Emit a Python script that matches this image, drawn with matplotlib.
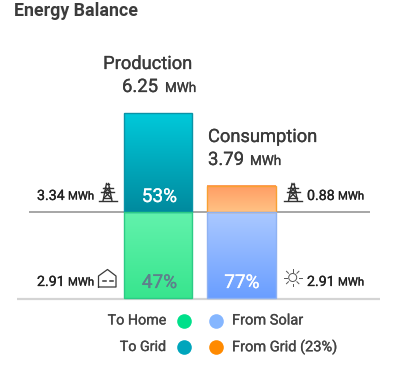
import numpy as np
import matplotlib
matplotlib.use("Agg")
import matplotlib.pyplot as plt
import matplotlib.patheffects as pe
from matplotlib.colors import LinearSegmentedColormap
from matplotlib.patches import Circle

plt.rcParams['font.family'] = ['Roboto', 'DejaVu Sans']

W, H = 404, 371
PX = 0.72  # px to pt at dpi 100

# data
categories = ["Production", "Consumption"]
totals = ["6.25", "3.79"]
above = [3.34, 0.88]
below = [2.91, 2.91]
above_pct = ["53%", ""]
below_pct = ["47%", "77%"]
legend_left = ["To Home", "To Grid"]
legend_right = ["From Solar", "From Grid (23%)"]
legend_left_colors = ["#00E08A", "#00A5BC"]
legend_right_colors = ["#85B6FF", "#FF8A00"]

fig = plt.figure(figsize=(W / 100, H / 100), dpi=100, facecolor="white")

# data axes: y in MWh, zero at the shared line
scale = 29.55
zero_px = 212.0
cx0, step = 158.5, 83.0
ax = fig.add_axes([0, 0, 1, 1], facecolor="none")
ax.set_xlim(-cx0 / step, (W - cx0) / step)
ax.set_ylim(-(H - zero_px) / scale, zero_px / scale)
ax.axis("off")

# overlay in pixels for labels and icons
ov = fig.add_axes([0, 0, 1, 1], facecolor="none")
ov.set_xlim(0, W)
ov.set_ylim(H, 0)
ov.axis("off")


def txt(x, y, s, size, color, weight_px=0.2, **kw):
    t = ov.text(x, y, s, fontsize=size * PX, color=color, va="center", zorder=6, **kw)
    if weight_px:
        t.set_path_effects([pe.withStroke(linewidth=weight_px, foreground=color)])
    return t


def grad_bar(x, bottom, height, top_col, bot_col, edge):
    w = 68.0 / step
    ax.bar(x, height, bottom=bottom, width=w, facecolor="none",
           edgecolor=edge, linewidth=1.0, zorder=3)
    cmap = LinearSegmentedColormap.from_list("g", [top_col, bot_col])
    y0, y1 = sorted([bottom, bottom + height])
    ax.imshow(np.linspace(0, 1, 128)[:, None], cmap=cmap, aspect="auto",
              origin="upper", extent=[x - w / 2, x + w / 2, y0, y1], zorder=2)


xlim, ylim = ax.get_xlim(), ax.get_ylim()
grad_bar(0, 0, above[0], "#00C9DA", "#008A9E", "#0A93A6")
grad_bar(0, -below[0], below[0], "#62F2AC", "#38E58E", "#2CCB85")
grad_bar(1, 0, above[1], "#FF9C63", "#FFC284", "#F9A032")
grad_bar(1, -below[1], below[1], "#ABC9FF", "#6A9EFF", "#8FB2F2")
ax.set_xlim(xlim)
ax.set_ylim(ylim)

# rules sit behind the bars
ax.hlines(0, xlim[0] + 29 / step, xlim[0] + 370 / step, color="#8E8E8E", lw=1.1, zorder=1)
ax.hlines(-(298.5 - zero_px) / scale, xlim[0] + 17 / step, xlim[0] + 380 / step,
          color="#D4D4D4", lw=1.6, zorder=1)

dark = "#3A3A3A"
txt(14, 11, "Energy Balance", 17.8, "#3C3C3C", 0, fontweight="bold", ha="left")

# headers
txt(192.5, 64, categories[0], 18.3, dark, ha="right")
txt(122, 87, totals[0], 18.5, dark, ha="left")
txt(165, 88, "MWh", 13.5, dark, ha="left")
txt(208, 137, categories[1], 18.3, dark, ha="left")
txt(208, 160, totals[1], 18.5, dark, ha="left")
txt(250, 161, "MWh", 13.5, dark, ha="left")

# percents
txt(159.5, 197, above_pct[0], 19, "white", ha="center")
txt(159.5, 283, below_pct[0], 19, "#5F7F8C", ha="center")
txt(242, 283, below_pct[1], 19, "white", ha="center")


def value_label(x, y, val):
    txt(x, y, val, 14.2, "#222222", ha="left")
    txt(x + 31, y + 0.5, "MWh", 11.3, "#222222", ha="left")


value_label(37, 196, f"{above[0]:.2f}")
value_label(37, 282, f"{below[0]:.2f}")
value_label(307, 196, f"{above[1]:.2f}")
value_label(307, 282, f"{below[1]:.2f}")


def pylon(cx, base):
    c = "#333333"
    lw = 1.0
    t = base - 17.5
    ov.plot([cx - 1, cx - 4.5], [t, base], color=c, lw=lw)
    ov.plot([cx + 1, cx + 4.5], [t, base], color=c, lw=lw)
    ov.plot([cx - 1, cx + 1], [t, t], color=c, lw=lw)
    ov.plot([cx - 5, cx + 5], [t + 4, t + 4], color=c, lw=lw)
    ov.plot([cx - 6.5, cx + 6.5], [t + 8, t + 8], color=c, lw=lw)
    ov.plot([cx - 3, cx + 3.6], [t + 8, base - 3], color=c, lw=lw)
    ov.plot([cx + 3, cx - 3.6], [t + 8, base - 3], color=c, lw=lw)
    ov.plot([cx - 3.6, cx + 3.6], [base - 3, base - 3], color=c, lw=lw)
    ov.plot([cx - 2, cx + 2], [t + 4, t + 8], color=c, lw=lw)
    ov.plot([cx + 2, cx - 2], [t + 4, t + 8], color=c, lw=lw)
    ov.plot([cx - 9, cx + 9], [base, base], color=c, lw=lw)


pylon(107.5, 201)
pylon(293, 201)

# house icon
hc = "#3A3A3A"
ov.plot([98.5, 98.5, 107.5, 116, 116, 98.5], [287, 276, 269.5, 276, 287, 287], color=hc, lw=0.9)
ov.plot([103, 106], [281, 281], color=hc, lw=1.1)
ov.plot([110, 113], [281, 281], color=hc, lw=1.1)

# sun icon
sx, sy = 292.7, 277.5
ov.add_patch(Circle((sx, sy), 4.0, fill=False, ec="#555555", lw=0.7))
for ang in np.arange(0, 360, 45):
    a = np.deg2rad(ang)
    ov.plot([sx + 6 * np.cos(a), sx + 8.8 * np.cos(a)],
            [sy + 6 * np.sin(a), sy + 8.8 * np.sin(a)], color="#555555", lw=0.7)

# legend
rows = [320.5, 347]
for y, ll, lc, rl, rc in zip(rows, legend_left, legend_left_colors, legend_right, legend_right_colors):
    txt(166, y, ll, 14.3, "#444444", ha="right")
    ov.scatter([183.7], [y], s=(14.6 * PX) ** 2, color=lc, linewidths=0)
    ov.scatter([216], [y], s=(14.6 * PX) ** 2, color=rc, linewidths=0)
    txt(232, y, rl, 14.6, "#444444", ha="left")

fig.savefig("out.png", dpi=100, facecolor="white")
